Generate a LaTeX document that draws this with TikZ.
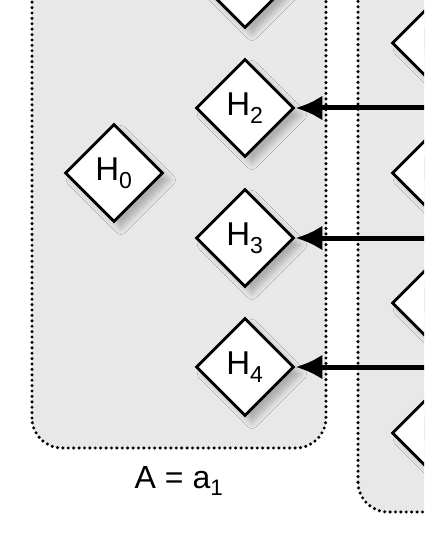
\documentclass[tikz,border=0pt]{standalone}
\usepackage{fontspec}
\setmainfont{Liberation Sans}
\usetikzlibrary{shapes.geometric, arrows.meta, shadows.blur, positioning}
\tikzset{>={Latex[length=27pt,width=25pt]}}
\tikzset{hyp/.style={diamond, draw=black, line width=2.8pt, fill=white,
    minimum width=98pt, minimum height=98pt, inner sep=0pt,
    font=\fontsize{33}{38}\selectfont,
    blur shadow={shadow xshift=7pt, shadow yshift=-7pt,
      shadow blur radius=6pt, shadow opacity=25}}}
\tikzset{group/.style={draw=black, line width=3.4pt,
    dash pattern=on 0pt off 5.4pt, line cap=round,
    fill=black!9, rounded corners=30pt}}
\tikzset{link/.style={->, line width=5pt}}

\begin{document}
\begin{tikzpicture}[x=1pt,y=1pt]
  \useasboundingbox (0,0) rectangle (424,-548);
  \begin{scope}
    \clip (0,0) rectangle (424,-548);
    % the two groups
    \draw[group] (32,-448) rectangle (326,80);
    \draw[group] (358,-512) rectangle (540,80);
    % left group
    \node[hyp] (h0) at (114,-173) {H\textsubscript{0}};
    \node[hyp] (h1) at (245,21) {H\textsubscript{1}};
    \node[hyp] (h2) at (245,-108) {H\textsubscript{2}};
    \node[hyp] (h3) at (245,-238) {H\textsubscript{3}};
    \node[hyp] (h4) at (245,-367) {H\textsubscript{4}};
    % right group
    \node[hyp] (g1) at (441,-43) {H\textsubscript{5}};
    \node[hyp] (g2) at (441,-173) {H\textsubscript{6}};
    \node[hyp] (g3) at (441,-303) {H\textsubscript{7}};
    \node[hyp] (g4) at (441,-433) {H\textsubscript{8}};
    % incoming links
    \coordinate (s2) at (480,-108);
    \coordinate (s3) at (480,-238);
    \coordinate (s4) at (480,-367);
    \draw[link] (s2) -- (h2.east);
    \draw[link] (s3) -- (h3.east);
    \draw[link] (s4) -- (h4.east);
    \node[font=\fontsize{32}{38}\selectfont] (lblA) at (179,-481) {A = a\textsubscript{1}};
  \end{scope}
\end{tikzpicture}
\end{document}
